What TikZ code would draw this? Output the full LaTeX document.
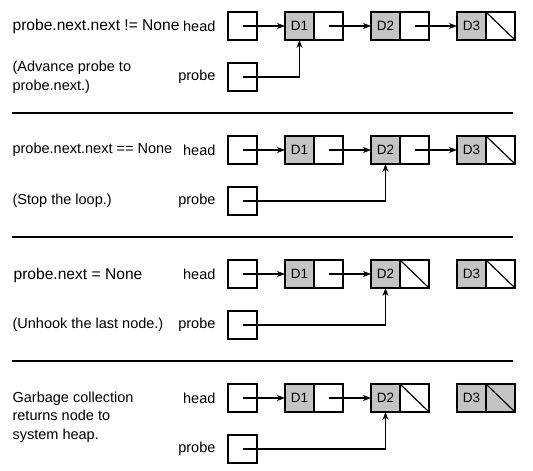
\documentclass[tikz,border=0pt]{standalone}
\usepackage{fontspec}
\setmainfont{Liberation Sans}
\usetikzlibrary{positioning,arrows.meta}

\tikzset{every picture/.style={line width=1.2pt}}
\tikzset{
	cell/.style={draw,minimum width=29pt,minimum height=28pt,inner sep=0pt,outer sep=0pt},
	datacell/.style={cell,fill=black!23,font=\fontsize{13.5}{16}\selectfont},
	lbl/.style={font=\fontsize{14.5}{18.5}\selectfont,inner sep=0pt},
	biglbl/.style={lbl,font=\fontsize{15.6}{18.5}\selectfont},
	rule/.style={line width=1.8pt}
}

\begin{document}
\begin{tikzpicture}[x=1pt,y=-1pt,>={Stealth[length=8pt,width=6pt]}]
				\useasboundingbox (0,0) rectangle (533,471);
				\foreach \k/\tgt/\col in {1/a/white,2/c/white,3/c/white,4/c/black!23}{
					\node[cell] (h\k) at (242.5,{26+124*(\k-1)}) {}; %head
					\node[cell,below=23pt of h\k] (p\k) {}; %probe
					\node[datacell,right=28pt of h\k] (a\k) {D1};
					\node[cell,right=0pt of a\k] (b\k) {};
					\node[datacell,right=28pt of b\k] (c\k) {D2};
					\node[cell,right=0pt of c\k] (e\k) {};
					\node[datacell,right=28pt of e\k] (f\k) {D3};
					\node[cell,fill=\col,right=0pt of f\k] (g\k) {};
					\draw (g\k.north west)--(g\k.south east); %None
					\node[lbl,left=12pt of h\k] (hl\k) {head};
					\node[lbl,left=12pt of p\k] (pl\k) {probe};
					\draw[->] (h\k.center)--(a\k.west);
					\draw[->] (b\k.center)--(c\k.west);
					\draw[->] (p\k.center)-|(\tgt\k.south);
				}
				\draw[->] (e1.center)--(f1.west);
				\draw[->] (e2.center)--(f2.west);
				\draw (e3.north west)--(e3.south east);
				\draw (e4.north west)--(e4.south east);
				\foreach \y in {113,237,361} \draw[rule] (12,\y)--(513,\y); %区切り線
				\node[biglbl,anchor=west] (s1) at (12,26) {probe.next.next != None};
				\node[lbl,anchor=west,align=left] (t1) at (12,77) {(Advance probe to\\probe.next.)};
				\node[lbl,anchor=west] (s2) at (12,150) {probe.next.next == None};
				\node[lbl,anchor=west] (t2) at (12,201) {(Stop the loop.)};
				\node[biglbl,anchor=west] (s3) at (13,275) {probe.next = None};
				\node[lbl,anchor=west] (t3) at (12,325) {(Unhook the last node.)};
				\node[lbl,anchor=west,align=left] (t4) at (12,417) {Garbage collection\\returns node to\\system heap.};
			\end{tikzpicture}
\end{document}
